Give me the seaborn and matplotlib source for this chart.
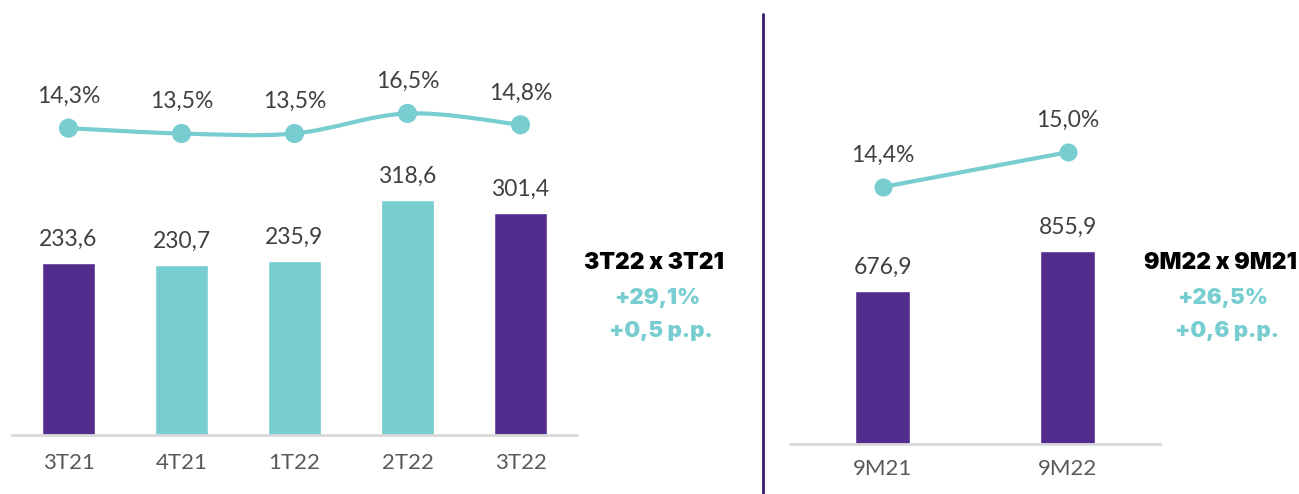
import numpy as np
import seaborn as sns
import matplotlib.pyplot as plt
from matplotlib.path import Path
from matplotlib.patches import PathPatch

# data
quarters = ["3T21", "4T21", "1T22", "2T22", "3T22"]
quarter_values = [233.6, 230.7, 235.9, 318.6, 301.4]
quarter_margin = [14.3, 13.5, 13.5, 16.5, 14.8]

periods = ["9M21", "9M22"]
period_values = [676.9, 855.9]
period_margin = [14.4, 15.0]

cmp_left = ["3T22 x 3T21", "+29,1%", "+0,5 p.p."]
cmp_right = ["9M22 x 9M21", "+26,5%", "+0,6 p.p."]

PURPLE = "#532D8E"
TEAL = "#77CDD0"
quarter_colors = [PURPLE, TEAL, TEAL, TEAL, PURPLE]
period_colors = [PURPLE, PURPLE]

sns.set_style("white")
plt.rcParams["font.family"] = ["Lato", "DejaVu Sans"]

W, H = 1299, 494
fig = plt.figure(figsize=(W / 100, H / 100), dpi=100)


def px_axes(x0, x1, base, top):
    return fig.add_axes([x0 / W, (H - base) / H, (x1 - x0) / W, (base - top) / H])


def fmt(v, pct=False):
    s = f"{v:.1f}".replace(".", ",")
    return s + "%" if pct else s


def smooth_path(xs, ys, t=0.5):
    # catmull-rom style bezier through the points (like excel smoothed line)
    xs, ys = np.asarray(xs, float), np.asarray(ys, float)
    verts = [(xs[0], ys[0])]
    codes = [Path.MOVETO]
    n = len(xs)
    for i in range(n - 1):
        p0 = (xs[max(i - 1, 0)], ys[max(i - 1, 0)])
        p1 = (xs[i], ys[i])
        p2 = (xs[i + 1], ys[i + 1])
        p3 = (xs[min(i + 2, n - 1)], ys[min(i + 2, n - 1)])
        c1 = (p1[0] + (p2[0] - p0[0]) * t / 3, p1[1] + (p2[1] - p0[1]) * t / 3)
        c2 = (p2[0] - (p3[0] - p1[0]) * t / 3, p2[1] - (p3[1] - p1[1]) * t / 3)
        verts += [c1, c2, p2]
        codes += [Path.CURVE4] * 3
    return Path(verts, codes)


def panel(ax, cats, vals, colors, margins, width, ylim, ylim2, smooth, tick_pad):
    sns.barplot(x=cats, y=vals, hue=cats, palette=colors, legend=False,
                width=width, saturation=1, ax=ax)
    ax.set_xlim(-0.5, len(cats) - 0.5)
    ax.set_ylim(*ylim)
    ax.set_yticks([])
    ax.set_ylabel("")
    for s in ["top", "right", "left"]:
        ax.spines[s].set_visible(False)
    ax.spines["bottom"].set_color("#D9D9D9")
    ax.spines["bottom"].set_linewidth(2)
    ax.tick_params(axis="x", length=0, pad=tick_pad, labelsize=16, labelcolor="#595959")
    for i, v in enumerate(vals):
        ax.annotate(fmt(v), (i, v), xytext=(0, 17), textcoords="offset points",
                    ha="center", va="center", fontsize=16.5, color="#404040")

    ax2 = ax.twinx()
    ax2.set_ylim(*ylim2)
    ax2.set_axis_off()
    x = np.arange(len(cats))
    if smooth:
        ax2.add_patch(PathPatch(smooth_path(x, margins), fill=False,
                                edgecolor=TEAL, lw=3, clip_on=False))
        sns.scatterplot(x=x, y=margins, color=TEAL, s=190, edgecolor="none",
                        ax=ax2, clip_on=False, zorder=3)
    else:
        sns.lineplot(x=x, y=margins, color=TEAL, lw=3, marker="o", markersize=13,
                     markeredgewidth=0, ax=ax2, clip_on=False)
    for i, m in enumerate(margins):
        ax2.annotate(fmt(m, True), (i, m), xytext=(0, 23), textcoords="offset points",
                     ha="center", va="center", fontsize=16.5, color="#404040")
    ax2.set_xlim(-0.5, len(cats) - 0.5)
    return ax, ax2


# left panel: quarters
axl = px_axes(12, 577, 435, 20)
panel(axl, quarters, quarter_values, quarter_colors, quarter_margin,
      0.47, (0, 415 / 0.737), (-31.5, -31.5 + 415 / 6.7), True, 13)

# right panel: nine months
axr = px_axes(790, 1160, 444, 20)
panel(axr, periods, period_values, period_colors, period_margin,
      0.3, (0, 424 / 0.226), (9.97, 9.97 + 424 / 58), False, 11)

# divider
fig.add_artist(plt.Line2D([763 / W, 763 / W], [0, 1 - 14 / H], color="#3B1A6B", lw=2))


def comparison(xc, lines):
    kw = dict(ha="center", va="center", family=["Inter", "DejaVu Sans"], weight="black")
    fig.text(xc / W, 1 - 263 / H, lines[0], fontsize=16.5, color="black", **kw)
    fig.text((xc + 3) / W, 1 - 298 / H, lines[1], fontsize=16, color=TEAL, **kw)
    fig.text((xc + 7) / W, 1 - 331 / H, lines[2], fontsize=16, color=TEAL, **kw)


comparison(654, cmp_left)
comparison(1220, cmp_right)

fig.savefig("out.png", dpi=100)
